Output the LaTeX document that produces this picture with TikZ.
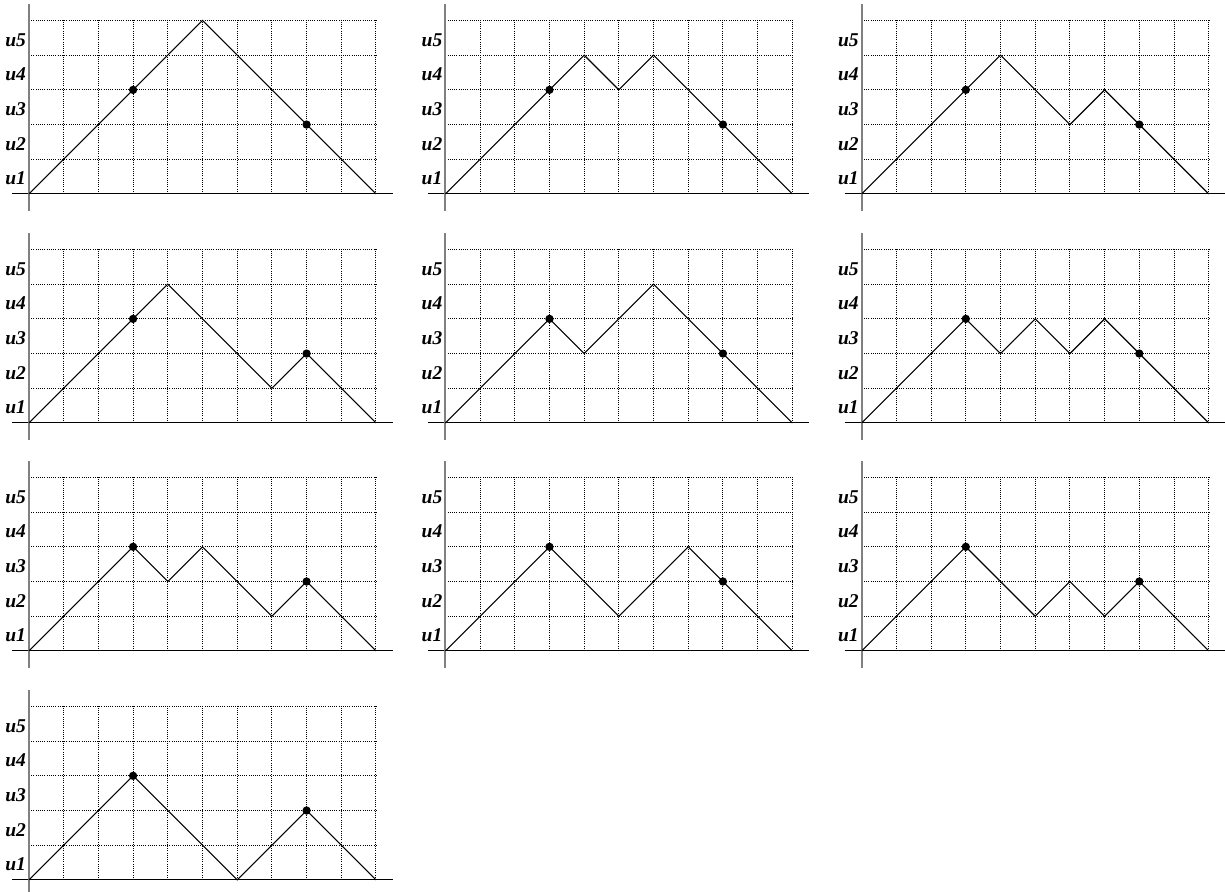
\documentclass[tikz,border=0pt]{standalone}
\usepackage{fontspec}
\setmainfont{Liberation Serif}
\usetikzlibrary{positioning}

% one panel: name, x shift, y shift, lattice path
\newcommand{\dyckpanel}[4]{%
  \begin{scope}[shift={(#2,#3)}]
    \draw[gridline] (0,0) grid (10,5);
    \draw[xaxis] (-0.49,0) -- (10.49,0);
    \draw[yaxis] (0,-0.49) -- (0,5.48);
    \foreach \k in {1,...,5}
      \node[ulab] (#1u\k) at (-0.08,\k-0.74) {u\k};
    \draw[walk] #4;
    \coordinate (#1a) at (3,3);
    \coordinate (#1b) at (8,2);
    \fill (#1a) circle (0.12);
    \fill (#1b) circle (0.12);
  \end{scope}}

\begin{document}
\begin{tikzpicture}[
  gridline/.style={densely dotted, line width=0.8pt, black},
  xaxis/.style={line width=0.9pt, black},
  yaxis/.style={line width=1.8pt, black!50},
  walk/.style={line width=0.9pt, black, line join=miter},
  ulab/.style={anchor=base east, inner sep=0pt, font=\fontsize{16}{18}\selectfont\bfseries\itshape}]
\useasboundingbox (-0.836,-20.11) rectangle (34.47,5.59);
% row 1
\dyckpanel{p1}{0}{0}{(0,0) -- (5,5) -- (10,0)}
\dyckpanel{p2}{12}{0}{(0,0) -- (4,4) -- (5,3) -- (6,4) -- (10,0)}
\dyckpanel{p3}{24}{0}{(0,0) -- (4,4) -- (6,2) -- (7,3) -- (10,0)}
% row 2
\dyckpanel{p4}{0}{-6.6}{(0,0) -- (4,4) -- (7,1) -- (8,2) -- (10,0)}
\dyckpanel{p5}{12}{-6.6}{(0,0) -- (3,3) -- (4,2) -- (6,4) -- (10,0)}
\dyckpanel{p6}{24}{-6.6}{(0,0) -- (3,3) -- (4,2) -- (5,3) -- (6,2) -- (7,3) -- (10,0)}
% row 3
\dyckpanel{p7}{0}{-13.17}{(0,0) -- (3,3) -- (4,2) -- (5,3) -- (7,1) -- (8,2) -- (10,0)}
\dyckpanel{p8}{12}{-13.17}{(0,0) -- (3,3) -- (5,1) -- (7,3) -- (10,0)}
\dyckpanel{p9}{24}{-13.17}{(0,0) -- (3,3) -- (5,1) -- (6,2) -- (7,1) -- (8,2) -- (10,0)}
% row 4
\dyckpanel{p10}{0}{-19.77}{(0,0) -- (3,3) -- (6,0) -- (8,2) -- (10,0)}
\end{tikzpicture}
\end{document}
